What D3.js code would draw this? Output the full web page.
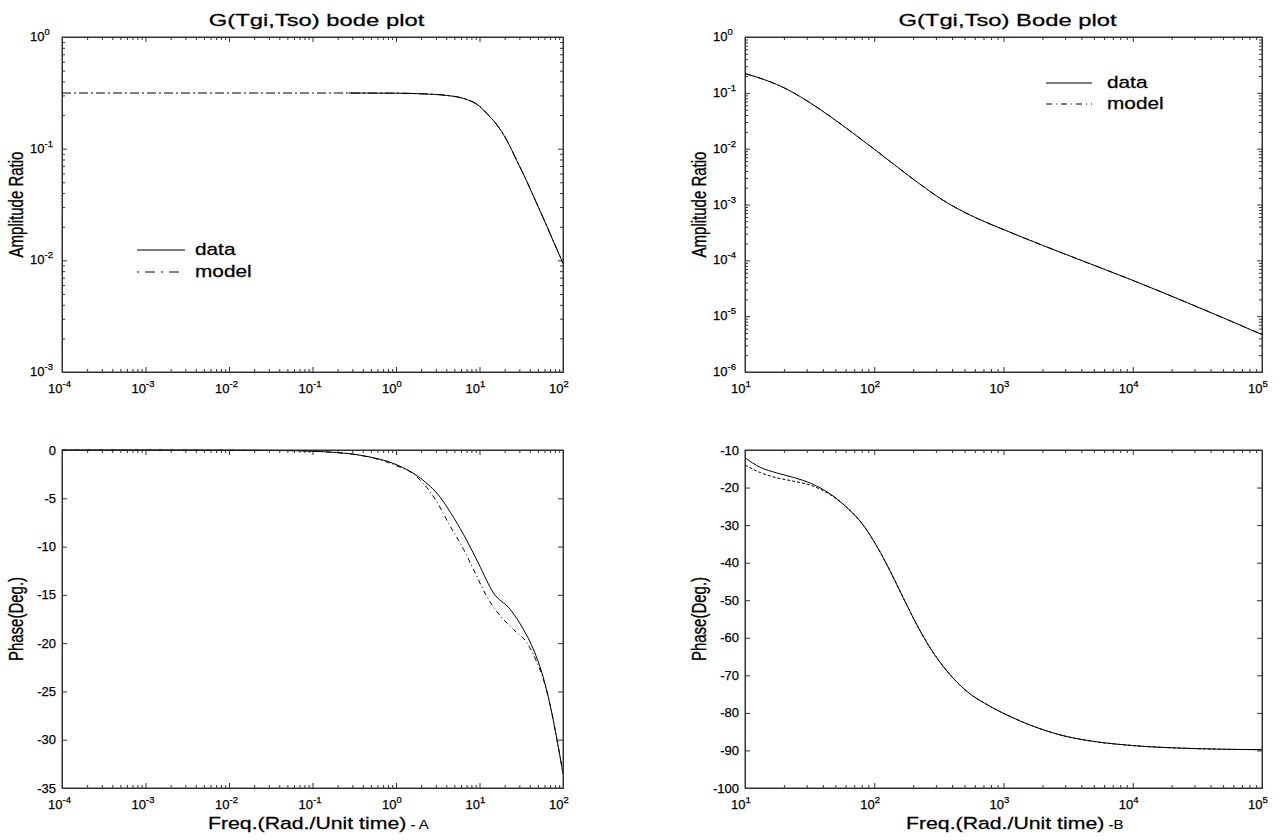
<!DOCTYPE html>
<html>
<head>
<meta charset="utf-8">
<script src="https://cdn.jsdelivr.net/npm/d3@7"></script>
<style>
  body { margin: 0; background: #fff; }
  svg { display: block; }
  text { font-family: "Liberation Sans", Arial, sans-serif; fill: #000; stroke: #000; stroke-width: 0.25px; }
</style>
</head>
<body>
<div id="wrapper"></div>
<script>
// ---- data ----
// panel A (top/bottom left)
const ampFreqModelA = [1e-4, 1e-3, 1e-2, 0.1, 0.3, 1, 2, 4, 6.4, 10, 12.2, 16, 21.1, 27.8, 36.7, 48.4, 63.8, 76.7, 96.6, 100]
const ampModelA     = [0.315, 0.315, 0.315, 0.315, 0.315, 0.314, 0.31, 0.30, 0.282, 0.24, 0.207, 0.165, 0.12, 0.079, 0.0513, 0.0324, 0.0204, 0.0148, 0.0100, 0.0094]
const ampFreqDataA  = [0.27, 1, 2, 4, 6.4, 10, 12.2, 16, 21.1, 27.8, 36.7, 48.4, 63.8, 76.7, 96.6, 100]
const ampDataA      = [0.315, 0.314, 0.31, 0.30, 0.282, 0.24, 0.207, 0.165, 0.12, 0.079, 0.0513, 0.0324, 0.0204, 0.0148, 0.0100, 0.0094]

const phFreqDataA  = [1e-4, 1e-3, 0.01, 0.05, 0.135, 0.41, 1.0, 1.95, 3.39, 4.9, 7.08, 9.8, 14.7, 23.3, 33.7, 44.5, 56, 70.5, 84.7, 97.3, 100]
const phDataA      = [0, 0, -0.02, -0.06, -0.18, -0.6, -1.5, -2.9, -4.9, -7.0, -9.4, -11.8, -14.8, -16.5, -18.6, -20.7, -23.1, -26.5, -30.0, -32.9, -33.5]
const phFreqModelA = [1e-4, 1e-3, 0.01, 0.05, 0.135, 0.41, 1.0, 1.62, 2.95, 4.47, 6.46, 8.5, 12.3, 17.8, 25.7, 37.2, 51, 56, 70.5, 84.7, 97.3, 100]
const phModelA     = [0, 0, -0.02, -0.06, -0.18, -0.62, -1.6, -2.5, -5.1, -7.9, -10.3, -12.4, -15.2, -17.2, -18.6, -20.0, -22.4, -23.3, -26.5, -30.0, -32.9, -33.5]

// panel B (top/bottom right)
const ampFreqB  = [10, 12.8, 19.5, 29.7, 45, 68, 100, 148, 225, 341, 517, 786, 1000, 1343, 2000, 3945, 10000, 26600, 50000, 100000]
const ampDataB  = [0.221, 0.186, 0.127, 0.0736, 0.0387, 0.0192, 0.0098, 0.00485, 0.00233, 0.00119, 0.000695, 0.000448, 0.000356, 0.000269, 0.000186, 0.000101, 0.0000438, 0.0000173, 0.00000935, 0.00000468]
const ampModelB = [0.221, 0.186, 0.127, 0.0736, 0.0387, 0.0192, 0.0098, 0.00485, 0.00233, 0.00119, 0.000695, 0.000448, 0.000356, 0.000269, 0.000186, 0.000101, 0.0000438, 0.0000173, 0.00000935, 0.00000468]

const phFreqB  = [10, 13.1, 17.6, 23.7, 32.9, 45.6, 61.4, 82.6, 105, 133, 169, 214, 272, 366, 522, 792, 1202, 1950, 3000, 5000, 10000, 30000, 100000]
const phDataB  = [-12.1, -14.6, -16.1, -17.3, -19.0, -21.7, -25.3, -30.1, -35.7, -42.3, -49.6, -56.6, -62.8, -68.9, -74.3, -78.3, -81.4, -84.3, -86.2, -87.6, -88.7, -89.5, -89.8]
const phModelB = [-14.0, -16.0, -17.4, -18.3, -19.5, -21.9, -25.3, -30.1, -35.7, -42.3, -49.6, -56.6, -62.8, -68.9, -74.3, -78.3, -81.4, -84.3, -86.2, -87.6, -88.7, -89.5, -89.8]

const phTicksA = [0, -5, -10, -15, -20, -25, -30, -35]
const phTicksB = [-10, -20, -30, -40, -50, -60, -70, -80, -90, -100]

const legendLabels = ["data", "model"]

// ---- layout ----
const width = 1281, height = 840
const colLeft = { x0: 62, x1: 563 }
const colRight = { x0: 745, x1: 1262 }
const rowTop = { y0: 37, y1: 372 }
const rowBottom = { y0: 450, y1: 788 }

const svg = d3.select("#wrapper").append("svg")
    .attr("width", width)
    .attr("height", height)

function decadeTicks(lo, hi) {
    const major = [], minor = []
    const e0 = Math.round(Math.log10(lo)), e1 = Math.round(Math.log10(hi))
    for (let e = e0; e <= e1; e++) {
        major.push(Math.pow(10, e))
        if (e < e1)
            for (let k = 2; k <= 9; k++) minor.push(k * Math.pow(10, e))
    }
    return { major, minor }
}

function stretchedText(g, x, y, str, size, sx, anchor) {
    return g.append("text")
        .attr("transform", `translate(${x},${y}) scale(${sx},1)`)
        .attr("text-anchor", anchor || "middle")
        .style("font-size", size + "px")
        .text(str)
}

function powLabel(g, x, y, v) {
    const e = Math.round(Math.log10(v))
    const t = g.append("text")
        .attr("x", x).attr("y", y)
        .style("font-size", "13px")
    t.append("tspan").text("10")
    t.append("tspan").attr("dy", -6).style("font-size", "9.5px").text(e)
    return t
}

function drawPanel(cfg) {
    const g = svg.append("g")
    const xScale = d3.scaleLog().domain(cfg.xDomain).range([cfg.box.x0, cfg.box.x1])
    const yScale = cfg.yLog
        ? d3.scaleLog().domain(cfg.yDomain).range([cfg.box.y1, cfg.box.y0])
        : d3.scaleLinear().domain(cfg.yDomain).range([cfg.box.y1, cfg.box.y0])

    const xt = decadeTicks(cfg.xDomain[0], cfg.xDomain[1])

    // x axes, ticks pointing inward on bottom and top
    ;[[d3.axisBottom, cfg.box.y1], [d3.axisTop, cfg.box.y0]].forEach(([gen, ypos]) => {
        g.append("g").attr("transform", `translate(0,${ypos})`)
            .call(gen(xScale).tickValues(xt.major).tickSize(-5).tickSizeOuter(0).tickFormat(""))
        g.append("g").attr("transform", `translate(0,${ypos})`)
            .call(gen(xScale).tickValues(xt.minor).tickSize(-3).tickSizeOuter(0).tickFormat(""))
    })

    // y axes
    let yMajor, yMinor = []
    if (cfg.yLog) {
        const yt = decadeTicks(cfg.yDomain[0], cfg.yDomain[1])
        yMajor = yt.major; yMinor = yt.minor
    } else {
        yMajor = cfg.yTicks
    }
    ;[[d3.axisLeft, cfg.box.x0], [d3.axisRight, cfg.box.x1]].forEach(([gen, xpos]) => {
        g.append("g").attr("transform", `translate(${xpos},0)`)
            .call(gen(yScale).tickValues(yMajor).tickSize(-5).tickSizeOuter(0).tickFormat(""))
        if (yMinor.length)
            g.append("g").attr("transform", `translate(${xpos},0)`)
                .call(gen(yScale).tickValues(yMinor).tickSize(-3).tickSizeOuter(0).tickFormat(""))
    })
    g.selectAll(".domain").attr("stroke", "#333")
    g.selectAll(".tick line").attr("stroke", "#333")

    // x tick labels
    xt.major.forEach(v => powLabel(g, xScale(v) - 14, cfg.box.y1 + 21, v))

    // y tick labels
    if (cfg.yLog) {
        yMajor.forEach(v => powLabel(g, cfg.box.x0 - 32, yScale(v) + 4, v))
    } else {
        yMajor.forEach(v => g.append("text")
            .attr("x", cfg.box.x0 - 6).attr("y", yScale(v) + 4.5)
            .attr("text-anchor", "end")
            .style("font-size", "13px")
            .text(v))
    }

    // lines
    const line = d3.line().x(d => xScale(d[0])).y(d => yScale(d[1])).curve(d3.curveMonotoneX)
    cfg.series.forEach(s => {
        g.append("path")
            .datum(d3.zip(s.x, s.y))
            .attr("fill", "none")
            .attr("stroke", "#000")
            .attr("stroke-width", 1)
            .attr("stroke-dasharray", s.dash || null)
            .attr("d", line)
    })

    // frame
    g.append("rect")
        .attr("x", cfg.box.x0).attr("y", cfg.box.y0)
        .attr("width", cfg.box.x1 - cfg.box.x0).attr("height", cfg.box.y1 - cfg.box.y0)
        .attr("fill", "none").attr("stroke", "#333")

    // title
    if (cfg.title)
        stretchedText(g, (cfg.box.x0 + cfg.box.x1) / 2 + 4, 26, cfg.title, 17, 1.4)

    // y label
    g.append("text")
        .attr("transform", `translate(${cfg.yLabelX},${(cfg.box.y0 + cfg.box.y1) / 2}) scale(1.3,1) rotate(-90)`)
        .attr("text-anchor", "middle")
        .style("font-size", "15px")
        .text(cfg.yLabel)

    // x label
    if (cfg.xLabel) {
        const t = g.append("text")
            .attr("transform", `translate(${cfg.xLabelX},829) scale(1.25,1)`)
            .style("font-size", "17px")
        t.append("tspan").text("Freq.(Rad./Unit time)")
        t.append("tspan").style("font-size", "12px").style("stroke-width", "0.1px").text(cfg.xLabel)
    }

    // legend
    if (cfg.legend) {
        const L = cfg.legend
        legendLabels.forEach((name, i) => {
            const y = L.y + i * L.step
            g.append("line")
                .attr("x1", L.x0).attr("x2", L.x1)
                .attr("y1", y).attr("y2", y)
                .attr("stroke", "#000")
                .attr("stroke-dasharray", i === 0 ? null : L.dash)
            stretchedText(g, L.tx, y + 5, name, 16, 1.3, "start")
        })
    }
}

drawPanel({
    box: { ...colLeft, ...rowTop },
    xDomain: [1e-4, 1e2], yDomain: [1e-3, 1], yLog: true,
    title: "G(Tgi,Tso) bode plot",
    yLabel: "Amplitude Ratio", yLabelX: 23,
    series: [
        { x: ampFreqDataA, y: ampDataA },
        { x: ampFreqModelA, y: ampModelA, dash: "9,3,2,3" },
    ],
    legend: { x0: 137, x1: 185, tx: 195, y: 250, step: 22, dash: "2,6,10,6" },
})

drawPanel({
    box: { ...colRight, ...rowTop },
    xDomain: [1e1, 1e5], yDomain: [1e-6, 1], yLog: true,
    title: "G(Tgi,Tso) Bode plot",
    yLabel: "Amplitude Ratio", yLabelX: 706,
    series: [
        { x: ampFreqB, y: ampDataB },
        { x: ampFreqB, y: ampModelB, dash: "6,3,1,3" },
    ],
    legend: { x0: 1046, x1: 1092, tx: 1107, y: 83, step: 21, dash: "6,4,1,4" },
})

drawPanel({
    box: { ...colLeft, ...rowBottom },
    xDomain: [1e-4, 1e2], yDomain: [-35, 0], yLog: false, yTicks: phTicksA,
    yLabel: "Phase(Deg.)", yLabelX: 23,
    xLabel: " - A", xLabelX: 208,
    series: [
        { x: phFreqDataA, y: phDataA },
        { x: phFreqModelA, y: phModelA, dash: "5,3,1,3" },
    ],
})

drawPanel({
    box: { ...colRight, ...rowBottom },
    xDomain: [1e1, 1e5], yDomain: [-100, -10], yLog: false, yTicks: phTicksB,
    yLabel: "Phase(Deg.)", yLabelX: 706,
    xLabel: " -B", xLabelX: 906,
    series: [
        { x: phFreqB, y: phDataB },
        { x: phFreqB, y: phModelB, dash: "3,2" },
    ],
})
</script>
</body>
</html>
